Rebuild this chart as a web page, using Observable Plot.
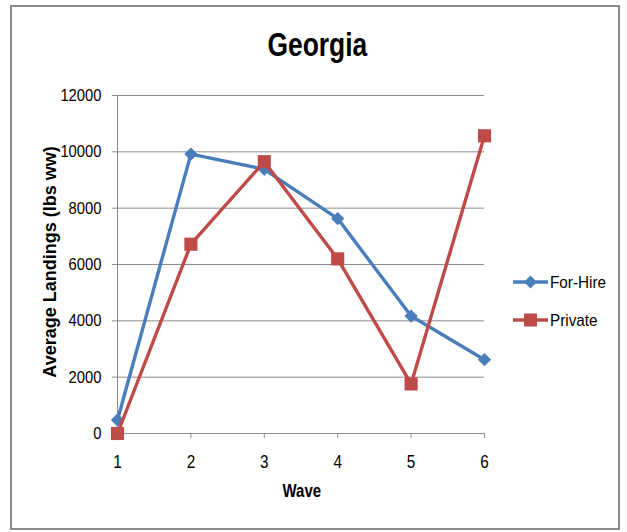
<!DOCTYPE html>
<html>
<head>
<meta charset="utf-8">
<script src="https://cdn.jsdelivr.net/npm/d3@7"></script>
<script src="https://cdn.jsdelivr.net/npm/@observablehq/plot@0.6"></script>
<style>
  html, body { margin: 0; padding: 0; background: #fff; }
  #wrap { position: relative; width: 627px; height: 532px; overflow: hidden; font-family: "Liberation Sans", Arial, sans-serif; }
  #frame { position: absolute; left: 10px; top: 5px; width: 610px; height: 525px; border: 2px solid #8a8a8a; box-sizing: border-box; }
  .squeeze { display: inline-block; white-space: nowrap; }
  #title { position: absolute; left: 0; width: 635px; top: 28px; text-align: center; font-size: 33px; font-weight: bold; line-height: 1; }
  #title .squeeze { transform: scaleX(0.8); transform-origin: 50% 50%; }
  #ytitle { position: absolute; left: 50px; top: 262px; transform: translate(-50%, -50%) rotate(-90deg); font-weight: bold; font-size: 18px; line-height: 1; white-space: nowrap; }
  #xtitle { position: absolute; left: 0; width: 603px; top: 482px; text-align: center; font-size: 18.5px; font-weight: bold; line-height: 1; }
  #xtitle .squeeze { transform: scaleX(0.81); transform-origin: 50% 50%; }
  .legend-item { position: absolute; left: 513px; display: flex; align-items: center; font-size: 17px; line-height: 1; }
  .legend-item svg { margin-right: 2px; flex: none; }
  .legend-item .squeeze { transform: scaleX(0.9); transform-origin: 0 50%; }
  #chart { position: absolute; left: 0; top: 0; }
</style>
</head>
<body>
<div id="wrap">
  <div id="frame"></div>
  <div id="chart"></div>
  <div id="title"><span class="squeeze">Georgia</span></div>
  <div id="ytitle">Average Landings (lbs ww)</div>
  <div id="xtitle"><span class="squeeze">Wave</span></div>
  <div id="legend"></div>
</div>
<script>
// Survey waves and average landings per mode of fishing
const waves = [1, 2, 3, 4, 5, 6];
const forHire = [480, 9920, 9380, 7630, 4170, 2620];
const privateMode = [0, 6720, 9650, 6200, 1760, 10570];
const yTicks = [0, 2000, 4000, 6000, 8000, 10000, 12000];
const seriesNames = ["For-Hire", "Private"];
const seriesColors = ["#4a7ebb", "#be4b48"];
const seriesSymbols = ["diamond2", "square"];

const rows = [
  ...waves.map((w, i) => ({wave: w, value: forHire[i], series: seriesNames[0]})),
  ...waves.map((w, i) => ({wave: w, value: privateMode[i], series: seriesNames[1]}))
];

const axisGray = "#8c8c8c";
const seriesMarks = seriesNames.flatMap((name, k) => {
  const data = rows.filter(d => d.series === name);
  return [
    Plot.line(data, {x: "wave", y: "value", stroke: seriesColors[k], strokeWidth: 3.4, strokeLinejoin: "round"}),
    Plot.dot(data, {x: "wave", y: "value", symbol: seriesSymbols[k], r: k === 0 ? 6 : 7.4, fill: seriesColors[k], stroke: "none"})
  ];
});

const chart = Plot.plot({
  width: 627,
  height: 532,
  marginLeft: 117,
  marginRight: 143,
  marginTop: 95,
  marginBottom: 99,
  style: {fontFamily: '"Liberation Sans", Arial, sans-serif', fontSize: "17px", color: "#000", background: "transparent", overflow: "visible"},
  x: {domain: [1, 6]},
  y: {domain: [0, 12000]},
  marks: [
    Plot.gridY(yTicks, {stroke: axisGray, strokeOpacity: 1}),
    Plot.ruleX([1], {stroke: axisGray}),
    Plot.ruleY([0], {stroke: axisGray}),
    Plot.axisY(yTicks, {tickSize: 5, tickPadding: 11, stroke: axisGray, label: null, tickFormat: d => String(d), ariaLabel: "y-axis"}),
    Plot.axisX(waves, {tickSize: 5, tickPadding: 17, stroke: axisGray, label: null, tickFormat: d => String(d), fontSize: 18, ariaLabel: "x-axis"}),
    ...seriesMarks
  ]
});

// Condense the tick labels horizontally around their anchor points
d3.select(chart).selectAll("g[aria-label='y-axis tick label'] text, g[aria-label='x-axis tick label'] text")
  .each(function() {
    const t = d3.select(this);
    const tr = t.attr("transform") || "";
    const sx = t.attr("text-anchor") === "end" || this.parentNode.getAttribute("text-anchor") === "end" ? 0.87 : 0.85;
    t.attr("transform", tr + ` scale(${sx},1)`);
  });
document.getElementById("chart").appendChild(chart);

// Legend entries: short line with the series marker, then the name
const legend = document.getElementById("legend");
const legendTops = [282, 320];
seriesNames.forEach((name, k) => {
  const item = document.createElement("div");
  item.className = "legend-item";
  item.style.top = (legendTops[k] - 10) + "px";
  const sym = seriesSymbols[k] === "square"
    ? `<rect x="11" y="3.5" width="13" height="13" fill="${seriesColors[k]}"/>`
    : `<path d="M17.5,3.5 L24,10 L17.5,16.5 L11,10 Z" fill="${seriesColors[k]}"/>`;
  item.innerHTML = `<svg width="35" height="20"><line x1="0" x2="35" y1="10" y2="10" stroke="${seriesColors[k]}" stroke-width="3.4"/>${sym}</svg><span class="squeeze">${name}</span>`;
  legend.appendChild(item);
});
</script>
</body>
</html>
